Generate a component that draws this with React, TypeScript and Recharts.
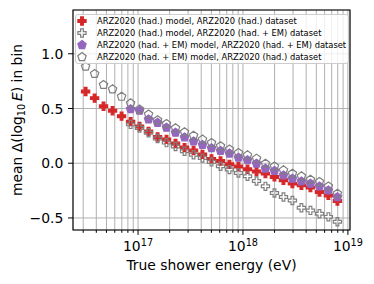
import { ScatterChart, Scatter, XAxis, YAxis, CartesianGrid, ReferenceArea, Legend } from 'recharts';

// bin centres, log10(E / eV)
const logEnergy = [
    16.5, 16.586, 16.671, 16.757, 16.843, 16.929, 17.014, 17.1, 17.186, 17.271,
    17.357, 17.443, 17.529, 17.614, 17.7, 17.786, 17.871, 17.957, 18.043, 18.129,
    18.214, 18.3, 18.386, 18.471, 18.557, 18.643, 18.729, 18.814, 18.9,
];

const hadModelHadData = [
    0.655, 0.595, 0.52, 0.48, 0.43, 0.38, 0.335, 0.29, 0.24, 0.218,
    0.18, 0.143, 0.116, 0.081, 0.04, 0.02, -0.01, -0.03, -0.055, -0.075,
    -0.095, -0.125, -0.156, -0.186, -0.202, -0.223, -0.263, -0.294, -0.345,
];

const hadModelEmData = [
    null, null, null, null, null, 0.355, 0.322, 0.278, 0.226, 0.188,
    0.153, 0.11, 0.078, 0.047, 0.012, -0.028, -0.058, -0.089, -0.119, -0.162,
    -0.211, -0.272, -0.309, -0.34, -0.407, -0.431, -0.462, -0.49, -0.535,
];

const emModelEmData = [
    null, null, null, null, null, 0.495, 0.48, 0.4, 0.37, 0.325,
    0.28, 0.237, 0.2, 0.168, 0.138, 0.113, 0.089, 0.052, 0.028, -0.003,
    -0.049, -0.07, -0.11, -0.14, -0.165, -0.186, -0.211, -0.248, -0.309,
];

const emModelHadData = [
    0.883, 0.817, 0.716, 0.676, 0.608, 0.548, 0.493, 0.447, 0.394, 0.36,
    0.32, 0.284, 0.252, 0.217, 0.186, 0.156, 0.126, 0.094, 0.073, 0.043,
    -0.003, -0.028, -0.064, -0.095, -0.119, -0.15, -0.171, -0.211, -0.278,
];

const seriesLabels = [
    'ARZ2020 (had.) model, ARZ2020 (had.) dataset',
    'ARZ2020 (had.) model, ARZ2020 (had. + EM) dataset',
    'ARZ2020 (had. + EM) model, ARZ2020 (had. + EM) dataset',
    'ARZ2020 (had. + EM) model, ARZ2020 (had.) dataset',
];

const majorDecades = [17, 18, 19];
const yTicks = [-0.5, 0, 0.5, 1.0];
const yTickLabels = ['\u22120.5', '0.0', '0.5', '1.0'];

const X_DOMAIN = [16.38, 19.02];
const Y_DOMAIN = [-0.61, 1.4];

const FONT = 'DejaVu Sans';
const RED = '#d62728';
const PURPLE = '#9467bd';
const GRAY = '#7f7f7f';

// log-axis tick positions (majors + 2..9 minors) inside the domain
const xTicks: number[] = [];
for (let e = 16; e <= 19; e++) {
    for (let m = 1; m <= 9; m++) {
        const v = Math.log10(m * Math.pow(10, e));
        if (v >= X_DOMAIN[0] && v <= X_DOMAIN[1]) xTicks.push(v);
    }
}

const toPoints = (vals: (number | null)[]) =>
    logEnergy.map((x, i) => ({ x, y: vals[i] })).filter((p) => p.y !== null);

function plusPath(cx: number, cy: number, size: number) {
    const s = size / 6;
    const v = [[-1, -3], [1, -3], [1, -1], [3, -1], [3, 1], [1, 1], [1, 3], [-1, 3], [-1, 1], [-3, 1], [-3, -1], [-1, -1]];
    return 'M' + v.map(([a, b]) => `${cx + a * s},${cy + b * s}`).join('L') + 'Z';
}

function pentagonPath(cx: number, cy: number, size: number) {
    const r = size / 2;
    const pts = [0, 1, 2, 3, 4].map((i) => {
        const a = (-90 + 72 * i) * Math.PI / 180;
        return `${cx + r * Math.cos(a)},${cy + r * Math.sin(a)}`;
    });
    return 'M' + pts.join('L') + 'Z';
}

const MARKER = 8.2;

const markers = [
    (cx: number, cy: number) => <path d={plusPath(cx, cy, MARKER)} fill={RED} stroke={RED} strokeWidth={1.2} />,
    (cx: number, cy: number) => <path d={plusPath(cx, cy, MARKER)} fill="none" stroke={GRAY} strokeWidth={1.2} />,
    (cx: number, cy: number) => <path d={pentagonPath(cx, cy, MARKER + 0.6)} fill={PURPLE} stroke={PURPLE} strokeWidth={1.2} />,
    (cx: number, cy: number) => <path d={pentagonPath(cx, cy, MARKER + 0.6)} fill="none" stroke={GRAY} strokeWidth={1.2} />,
];

const XTick = (props: any) => {
    const { x, y, payload } = props;
    const isMajor = majorDecades.some((d) => Math.abs(d - payload.value) < 1e-6);
    return (
        <g>
            <line x1={x} x2={x} y1={y} y2={y + (isMajor ? 4.9 : 2.8)} stroke="#000" strokeWidth={1} />
            {isMajor && (
                <text x={x} y={y + 21} textAnchor="middle" fontFamily={FONT} fontSize={13.9} fill="#000">
                    10<tspan fontSize={9.7} dy={-5.5}>{Math.round(payload.value)}</tspan>
                </text>
            )}
        </g>
    );
};

const YTick = (props: any) => {
    const { x, y, payload } = props;
    const idx = yTicks.findIndex((t) => Math.abs(t - payload.value) < 1e-6);
    return (
        <g>
            <line x1={x - 4.9} x2={x} y1={y} y2={y} stroke="#000" strokeWidth={1} />
            <text x={x - 9.7} y={y + 5} textAnchor="end" fontFamily={FONT} fontSize={13.9} fill="#000">
                {yTickLabels[idx]}
            </text>
        </g>
    );
};

const XTitle = () => (
    <text x={211.5} y={270} textAnchor="middle" fontFamily={FONT} fontSize={13.9} fill="#000">
        True shower energy (eV)
    </text>
);

const YTitle = () => (
    <text transform="translate(21.5,120) rotate(-90)" textAnchor="middle" fontFamily={FONT} fontSize={13.9} fill="#000">
        mean Δ(log<tspan fontSize={9.7} dy={3}>10</tspan>
        <tspan dy={-3} fontStyle="italic">{'\u2009E'}</tspan>) in bin
    </text>
);

const renderLegend = () => (
    <div
        style={{
            background: 'rgba(255,255,255,0.8)',
            border: '1px solid #cccccc',
            borderRadius: 3,
            fontFamily: FONT,
            fontSize: 8.33,
            boxSizing: 'border-box',
            width: 274,
            height: 50,
        }}
    >
        {seriesLabels.map((label, i) => (
            <div key={label} style={{ display: 'flex', alignItems: 'center', height: 12, whiteSpace: 'nowrap' }}>
                <svg width={12} height={12} style={{ flex: 'none' }}>
                    {markers[i](6, 6)}
                </svg>
                <span style={{ marginLeft: 9, color: '#000' }}>{label}</span>
            </div>
        ))}
    </div>
);

const datasets = [hadModelHadData, hadModelEmData, emModelEmData, emModelHadData];

export default function App() {
    return (
        <div style={{ position: 'absolute', left: 0, top: 0, width: 374, height: 284, background: '#fff' }}>
            <ScatterChart width={374} height={284} margin={{ top: 10, right: 24, bottom: 0, left: 0 }}>
                <CartesianGrid stroke="#b0b0b0" strokeWidth={1} />
                <XAxis
                    type="number"
                    dataKey="x"
                    domain={X_DOMAIN}
                    ticks={xTicks}
                    interval={0}
                    allowDataOverflow
                    height={54}
                    axisLine={false}
                    tickLine={false}
                    tickSize={0}
                    tickMargin={0}
                    tick={<XTick />}
                    label={<XTitle />}
                />
                <YAxis
                    type="number"
                    dataKey="y"
                    domain={Y_DOMAIN}
                    ticks={yTicks}
                    interval={0}
                    allowDataOverflow
                    width={73}
                    axisLine={false}
                    tickLine={false}
                    tickSize={0}
                    tickMargin={0}
                    tick={<YTick />}
                    label={<YTitle />}
                />
                {datasets.map((vals, i) => (
                    <Scatter
                        key={seriesLabels[i]}
                        data={toPoints(vals)}
                        isAnimationActive={false}
                        shape={(p: any) => markers[i](p.cx, p.cy)}
                    />
                ))}
                <ReferenceArea
                    x1={X_DOMAIN[0]}
                    x2={X_DOMAIN[1]}
                    y1={Y_DOMAIN[0]}
                    y2={Y_DOMAIN[1]}
                    fill="none"
                    stroke="#000"
                    strokeWidth={1.1}
                />
                <Legend
                    layout="vertical"
                    align="center"
                    verticalAlign="middle"
                    content={renderLegend}
                    wrapperStyle={{ left: 75, top: 14, width: 274, height: 50 }}
                />
            </ScatterChart>
        </div>
    );
}
